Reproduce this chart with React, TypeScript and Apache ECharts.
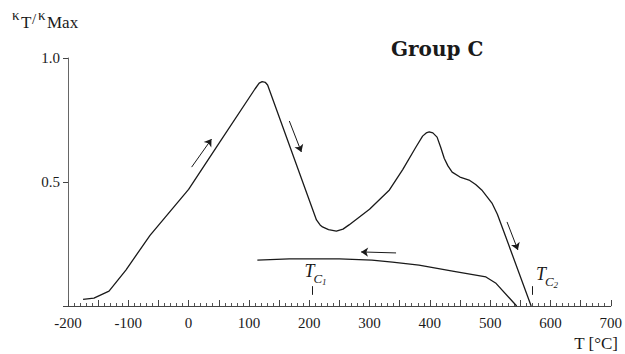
import React, { useEffect, useRef } from "react";
import * as echarts from "echarts";

// Heating curve (T in °C, kappa_T / kappa_Max)
const heatingT = [-175, -157, -132, -104, -64, 0, 50, 110, 117, 122, 127, 131, 212, 218, 222, 232, 245, 256, 266, 300, 333, 355, 377, 388, 394, 399, 405, 412, 418, 424, 430, 437, 450, 465, 476, 486, 495, 503, 512, 526, 568];
const heatingK = [0.027, 0.032, 0.06, 0.145, 0.285, 0.47, 0.655, 0.875, 0.899, 0.905, 0.902, 0.891, 0.347, 0.327, 0.319, 0.308, 0.302, 0.31, 0.327, 0.39, 0.468, 0.55, 0.641, 0.685, 0.698, 0.702, 0.698, 0.681, 0.64, 0.595, 0.565, 0.54, 0.52, 0.508, 0.49, 0.468, 0.44, 0.415, 0.37, 0.278, 0];

// Cooling curve
const coolingT = [114, 167, 250, 304, 338, 382, 440, 493, 509, 544];
const coolingK = [0.185, 0.19, 0.19, 0.185, 0.177, 0.165, 0.14, 0.117, 0.093, 0];

// Arrows: [T1, k1, T2, k2] (arrow head at the second point)
const arrows = [
  [5, 0.56, 38, 0.673],
  [167, 0.746, 187, 0.621],
  [528, 0.339, 546, 0.226],
  [344, 0.214, 286, 0.218],
];

// Curie temperatures
const tcT = [205, 570];
const tcNames = ["1", "2"];
const tcTickK = [0.045, 0.08];

const xTicks = { min: -200, max: 700, step: 50, labelStep: 100 };
const yTicks = { min: 0, max: 1, step: 0.5 };

const SERIF = "'Liberation Serif', 'DejaVu Serif', serif";

export default function App() {
  const ref = useRef<HTMLDivElement>(null);
  useEffect(() => {
    document.body.style.margin = "0";
    if (!ref.current) return;
    const chart = echarts.init(ref.current, null, { renderer: "svg" });
    const heat = heatingT.map((t, i) => [t, heatingK[i]]);
    const cool = coolingT.map((t, i) => [t, coolingK[i]]);
    const lineStyle = { color: "#1a1a1a", width: 1.3 };
    const option: any = {
      animation: false,
      backgroundColor: "#ffffff",
      grid: { left: 68, right: 13, top: 58, bottom: 48, containLabel: false },
      xAxis: {
        type: "value",
        min: xTicks.min,
        max: xTicks.max,
        interval: xTicks.step,
        axisLine: { show: true, onZero: false, lineStyle: { color: "#444", width: 1 } },
        axisTick: { show: true, inside: true, length: 6, lineStyle: { color: "#444", width: 1 } },
        minorTick: { show: true, splitNumber: 5, length: 3, lineStyle: { color: "#555", width: 1 } },
        splitLine: { show: false },
        axisLabel: {
          margin: 9,
          fontFamily: SERIF,
          fontSize: 15,
          color: "#1a1a1a",
          formatter: (v: number) => (v % xTicks.labelStep === 0 ? String(v) : ""),
        },
      },
      yAxis: {
        type: "value",
        min: yTicks.min,
        max: yTicks.max,
        interval: yTicks.step,
        axisLine: { show: true, onZero: false, lineStyle: { color: "#666", width: 1 } },
        axisTick: { show: true, inside: false, length: 5, lineStyle: { color: "#444" } },
        splitLine: { show: false },
        axisLabel: {
          margin: 8,
          fontFamily: SERIF,
          fontSize: 15,
          color: "#1a1a1a",
          formatter: (v: number) => (v === 0 ? "" : v.toFixed(1)),
        },
      },
      series: [
        {
          type: "line",
          data: heat,
          showSymbol: false,
          lineStyle,
          silent: true,
          markLine: {
            silent: true,
            animation: false,
            label: { show: false },
            lineStyle: { color: "#1a1a1a", width: 1, type: "solid" },
            data: [
              ...arrows.map((a) => [
                { coord: [a[0], a[1]], symbol: "none" },
                { coord: [a[2], a[3]], symbol: "arrow", symbolSize: 7 },
              ]),
              ...tcT.map((t) => [
                { coord: [t, tcTickK[0]], symbol: "none" },
                { coord: [t, tcTickK[1]], symbol: "none" },
              ]),
            ],
          },
        },
        {
          type: "line",
          data: cool,
          showSymbol: false,
          lineStyle,
          silent: true,
        },
      ],
    };
    chart.setOption(option);

    const graphics: any[] = [];
    const tcLabelPos = [
      [192, 0.105],
      [576, 0.093],
    ];
    tcLabelPos.forEach((p, i) => {
      const px = chart.convertToPixel({ gridIndex: 0 }, p) as number[];
      graphics.push(
        { type: "text", x: px[0], y: px[1], style: { text: "T", fontFamily: SERIF, fontStyle: "italic", fontSize: 18, fill: "#1a1a1a", textVerticalAlign: "bottom", textAlign: "left" } },
        { type: "text", x: px[0] + 9, y: px[1] + 5, style: { text: "C", fontFamily: SERIF, fontStyle: "italic", fontSize: 13, fill: "#1a1a1a", textVerticalAlign: "bottom", textAlign: "left" } },
        { type: "text", x: px[0] + 17.5, y: px[1] + 7, style: { text: tcNames[i], fontFamily: SERIF, fontStyle: "italic", fontSize: 9, fill: "#1a1a1a", textVerticalAlign: "bottom", textAlign: "left" } }
      );
    });
    // axis titles and chart title
    graphics.push(
      { type: "text", x: 12, y: 22, style: { text: "κ", fontFamily: SERIF, fontSize: 15, fill: "#1a1a1a", textVerticalAlign: "bottom" } },
      { type: "text", x: 21, y: 31, style: { text: "T", fontFamily: SERIF, fontSize: 17, fill: "#1a1a1a", textVerticalAlign: "bottom" } },
      { type: "text", x: 32, y: 26, style: { text: "/", fontFamily: SERIF, fontSize: 15, fill: "#1a1a1a", textVerticalAlign: "bottom" } },
      { type: "text", x: 38, y: 22, style: { text: "κ", fontFamily: SERIF, fontSize: 15, fill: "#1a1a1a", textVerticalAlign: "bottom" } },
      { type: "text", x: 47, y: 31, style: { text: "Max", fontFamily: SERIF, fontSize: 17, fill: "#1a1a1a", textVerticalAlign: "bottom" } },
      { type: "text", x: 618, y: 352, style: { text: "T [°C]", fontFamily: SERIF, fontSize: 17, fill: "#1a1a1a", textAlign: "right", textVerticalAlign: "bottom" } },
      { type: "text", x: 391, y: 59, style: { text: "Group C", fontFamily: "'DejaVu Serif', serif", fontWeight: "bold", fontSize: 20, fill: "#1a1a1a", textAlign: "left", textVerticalAlign: "bottom" } }
    );
    chart.setOption({ graphic: graphics });
    return () => chart.dispose();
  }, []);
  return <div ref={ref} style={{ width: 625, height: 354 }} />;
}
